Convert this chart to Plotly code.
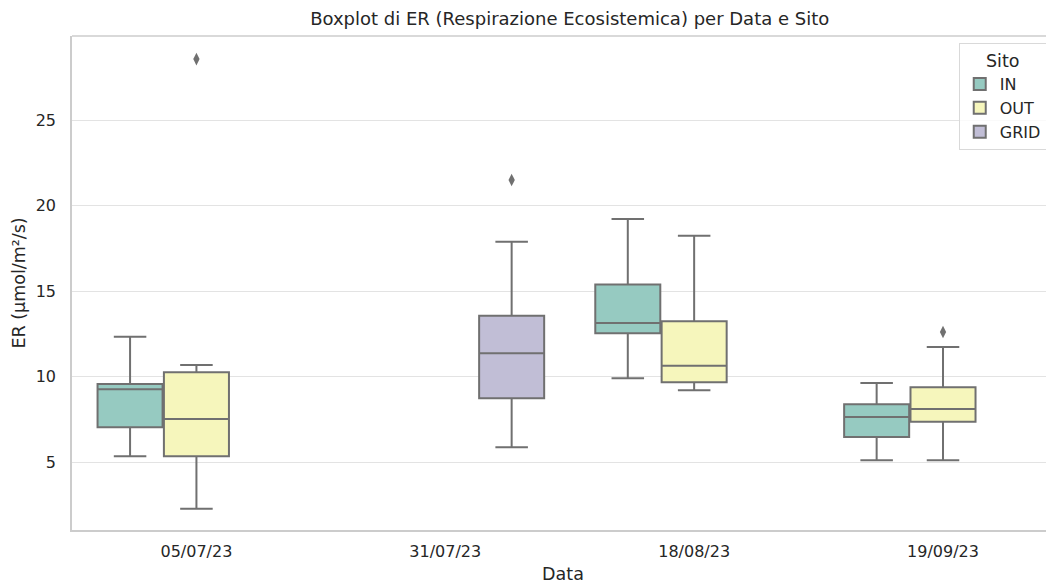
import plotly.graph_objects as go

# Date di campionamento (asse x)
date = ['05/07/23', '31/07/23', '18/08/23', '19/09/23']

# Statistiche, per sito
in_date = ['05/07/23', '18/08/23', '19/09/23']
in_q1 = [7.05, 12.54, 6.48]
in_med = [9.27, 13.15, 7.65]
in_q3 = [9.58, 15.39, 8.39]
in_low = [5.35, 9.91, 5.12]
in_up = [12.34, 19.23, 9.64]
in_out = None  # nessun outlier

out_date = ['05/07/23', '18/08/23', '19/09/23']
out_q1 = [5.35, 9.68, 7.37]
out_med = [7.53, 10.65, 8.12]
out_q3 = [10.26, 13.25, 9.39]
out_low = [2.29, 9.21, 5.12]
out_up = [10.69, 18.25, 11.74]
out_out = [[28.58], [], [12.62]]

grid_date = ['31/07/23']
grid_q1 = [8.74]
grid_med = [11.37]
grid_q3 = [13.57]
grid_low = [5.88]
grid_up = [17.9]
grid_out = [[21.51]]

siti = [
    ('IN', '#96cac1', in_date, in_q1, in_med, in_q3, in_low, in_up, in_out),
    ('OUT', '#f6f6bc', out_date, out_q1, out_med, out_q3, out_low, out_up, out_out),
    ('GRID', '#c1bed6', grid_date, grid_q1, grid_med, grid_q3, grid_low, grid_up, grid_out),
]

grigio = '#707070'
spine = '#cccccc'

fig = go.Figure()
for nome, colore, x, q1, med, q3, low, up, pts in siti:
    fig.add_trace(go.Box(
        name=nome, x=x, y=pts,
        q1=q1, median=med, q3=q3, lowerfence=low, upperfence=up,
        fillcolor=colore,
        line=dict(color=grigio, width=2),
        whiskerwidth=0.5,
        boxpoints='outliers' if pts else False, jitter=0, pointpos=0,
        marker=dict(symbol='diamond-tall', size=9, color=grigio),
    ))

# bordo superiore (il bordo destro nel riferimento resta fuori dall'immagine)
fig.add_shape(type='line', xref='paper', yref='paper', x0=0, x1=1, y0=1, y1=1,
              line=dict(color=spine, width=1.5))

# la pagina ha un margine di 8px: figura leggermente ridotta
W, H = 1046, 577
font = 'DejaVu Sans'
fig.update_layout(
    width=W, height=H,
    margin=dict(l=64, r=0, t=28, b=55, autoexpand=False),
    paper_bgcolor='white', plot_bgcolor='white',
    boxmode='group', boxgap=0.2, boxgroupgap=0.02,
    font=dict(family=font, size=16, color='#262626'),
    title=dict(text='Boxplot di ER (Respirazione Ecosistemica) per Data e Sito',
               x=0.537, xanchor='center', y=1 - 11 / H, yanchor='middle',
               font=dict(size=18, color='#262626')),
    legend=dict(title=dict(text='Sito', side='top center', font=dict(size=17.5)),
                x=0.903, xanchor='left', y=0.985, yanchor='top',
                bordercolor='#d9d9d9', borderwidth=1, bgcolor='rgba(255,255,255,0.8)',
                font=dict(size=16), tracegroupgap=0),
    xaxis=dict(type='category', categoryorder='array', categoryarray=date,
               range=[-0.5, 3.446], showgrid=False, zeroline=False, automargin=False,
               showline=True, linecolor=spine, linewidth=1.5,
               ticks='outside', ticklen=6, tickcolor='white',
               title=dict(text='Data', standoff=8, font=dict(size=17.5))),
    yaxis=dict(range=[1.04, 29.93], tickvals=[5, 10, 15, 20, 25], automargin=False,
               showgrid=True, gridcolor='#e3e3e3', gridwidth=1, zeroline=False,
               showline=True, linecolor=spine, linewidth=1.5,
               ticks='outside', ticklen=11, tickcolor='white',
               title=dict(text='ER (µmol/m²/s)', standoff=6, font=dict(size=17.5))),
)

fig.write_html("out.html")
